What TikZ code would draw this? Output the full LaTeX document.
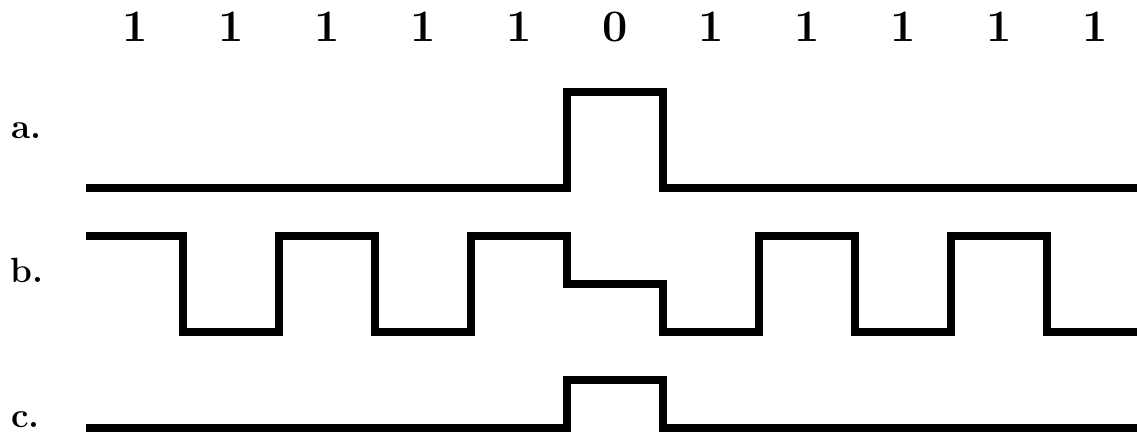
\documentclass[tikz,border=0pt]{standalone}
\begin{document}
\begin{tikzpicture}[x=1pt,y=-1pt,
  sig/.style={line width=8pt,line join=miter,line cap=butt,black},
  bitlbl/.style={font=\fontsize{45}{45}\selectfont\bfseries,anchor=base,inner sep=0pt},
  rowlbl/.style={font=\fontsize{35}{35}\selectfont\bfseries,anchor=base west,inner sep=0pt}]
\useasboundingbox (0,0) rectangle (1137,436);
% bit labels
\foreach \b [count=\i from 0] in {1,1,1,1,1,0,1,1,1,1,1} {
  \node[bitlbl] (bit\i) at ({135+96*\i},42) {\b};
}
% row labels
\node[rowlbl] (la) at (11,138) {a.};
\node[rowlbl] (lb) at (10,282) {b.};
\node[rowlbl] (lc) at (11,427) {c.};
% signal a
\draw[sig] (86,188) -- (567,188) -- (567,92) -- (663,92) -- (663,188) -- (1137,188);
% signal b
\draw[sig] (86,236) -- (183,236) -- (183,332) -- (279,332) -- (279,236) -- (375,236)
  -- (375,332) -- (471,332) -- (471,236) -- (567,236) -- (567,284) -- (663,284)
  -- (663,332) -- (759,332) -- (759,236) -- (855,236) -- (855,332) -- (951,332)
  -- (951,236) -- (1047,236) -- (1047,332) -- (1137,332);
% signal c
\draw[sig] (86,428) -- (567,428) -- (567,380) -- (663,380) -- (663,428) -- (1137,428);
\end{tikzpicture}
\end{document}
